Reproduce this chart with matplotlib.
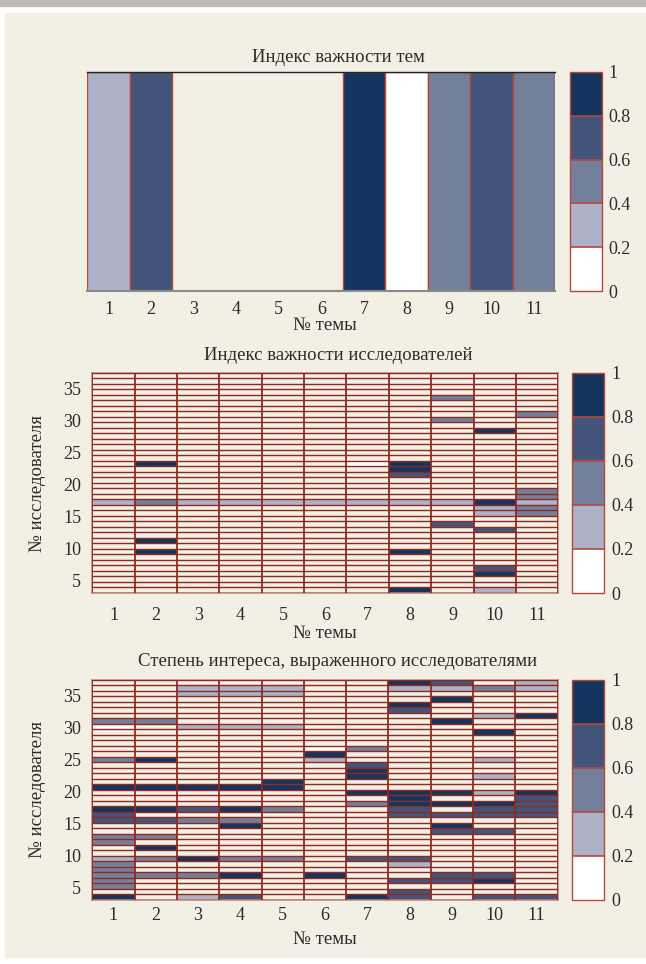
import matplotlib.pyplot as plt
import numpy as np
from matplotlib.colors import ListedColormap, BoundaryNorm
from matplotlib.cm import ScalarMappable
from matplotlib.patches import Rectangle

plt.rcParams['font.family'] = ['Liberation Serif', 'DejaVu Serif']
plt.rcParams['font.size'] = 13
plt.rcParams['text.color'] = '#2b2b2b'
plt.rcParams['xtick.color'] = '#2b2b2b'
plt.rcParams['ytick.color'] = '#2b2b2b'

# темы 1..11
topics = np.arange(1, 12)
# индекс важности тем (nan = нет значения)
topic_importance = [0.3, 0.7, np.nan, np.nan, np.nan, np.nan, 0.9, 0.1, 0.5, 0.7, 0.5]

n_res = 40
y_ticks = [5, 10, 15, 20, 25, 30, 35]

# индекс важности исследователей: тема -> {№ исследователя: значение}
res_importance = {
    1: {17: 0.3},
    2: {24: 0.9, 17: 0.5, 10: 0.9, 8: 0.9},
    3: {17: 0.3},
    4: {17: 0.3},
    5: {17: 0.3},
    6: {17: 0.3},
    7: {24: 0.1, 17: 0.3},
    8: {24: 0.9, 23: 0.9, 22: 0.7, 17: 0.3, 8: 0.9, 1: 0.9},
    9: {36: 0.5, 32: 0.5, 17: 0.3, 13: 0.7},
    10: {30: 0.9, 17: 0.9, 16: 0.3, 15: 0.3, 12: 0.7, 5: 0.7, 4: 0.9, 1: 0.3},
    11: {33: 0.5, 19: 0.5, 18: 0.5, 17: 0.3, 16: 0.5, 15: 0.5},
}

# степень интереса, выраженного исследователями
res_interest = {
    1: {33: 0.5, 32: 0.1, 26: 0.5, 21: 0.9, 17: 0.9, 16: 0.7, 15: 0.7, 12: 0.5,
        11: 0.5, 8: 0.3, 7: 0.5, 6: 0.5, 5: 0.5, 4: 0.5, 3: 0.5, 1: 0.9},
    2: {33: 0.5, 26: 0.9, 21: 0.9, 17: 0.9, 15: 0.7, 12: 0.5, 10: 0.9, 8: 0.5, 5: 0.5},
    3: {39: 0.3, 38: 0.3, 32: 0.3, 21: 0.9, 17: 0.7, 15: 0.5, 8: 0.9, 5: 0.5, 1: 0.3},
    4: {39: 0.3, 38: 0.3, 32: 0.3, 21: 0.9, 17: 0.9, 15: 0.5, 14: 0.9, 8: 0.5,
        5: 0.9, 1: 0.7},
    5: {39: 0.3, 38: 0.3, 32: 0.3, 22: 0.9, 21: 0.9, 17: 0.5, 8: 0.5},
    6: {28: 0.1, 27: 0.9, 26: 0.3, 5: 0.9},
    7: {28: 0.5, 25: 0.7, 24: 0.9, 23: 0.9, 20: 0.9, 18: 0.5, 8: 0.7, 1: 0.9},
    8: {40: 0.9, 39: 0.3, 36: 0.9, 35: 0.7, 20: 0.9, 19: 0.9, 18: 0.9, 17: 0.7,
        16: 0.7, 8: 0.7, 7: 0.3, 4: 0.7, 2: 0.7, 1: 0.7},
    9: {40: 0.7, 39: 0.3, 37: 0.9, 33: 0.9, 20: 0.9, 18: 0.9, 16: 0.7, 14: 0.9,
        13: 0.7, 5: 0.7, 4: 0.7},
    10: {39: 0.5, 34: 0.3, 31: 0.9, 26: 0.3, 23: 0.3, 20: 0.3, 18: 0.9, 17: 0.7,
         16: 0.7, 13: 0.7, 5: 0.7, 4: 0.9, 1: 0.7},
    11: {40: 0.3, 39: 0.3, 34: 0.9, 20: 0.9, 19: 0.7, 18: 0.7, 17: 0.7, 16: 0.7, 1: 0.7},
}

levels = [0, 0.2, 0.4, 0.6, 0.8, 1.0]
level_labels = ['0', '0.2', '0.4', '0.6', '0.8', '1']
colors = ['#ffffff', '#adb2c8', '#747f9c', '#43557a', '#14355e']
cmap = ListedColormap(colors)
norm = BoundaryNorm(levels, cmap.N)

bg = '#f2efe5'
red = '#8e2a22'
edge_red = '#b8473b'


def to_matrix(d):
    m = np.full((n_res, len(topics)), np.nan)
    for topic, cells in d.items():
        for r, v in cells.items():
            m[r - 1, topic - 1] = v
    return m


W, H = 646, 964
fig = plt.figure(figsize=(W / 100, H / 100), dpi=100)
fig.patch.set_facecolor('white')
fig.add_artist(Rectangle((0, 1 - 6 / H), 1, 6 / H, transform=fig.transFigure,
                         color='#bdbbb3', zorder=0))
fig.add_artist(Rectangle((5 / W, 1 - 957 / H), 1, (957 - 13) / H,
                         transform=fig.transFigure, color=bg, zorder=0))


def px_axes(x0, y0, x1, y1):
    return fig.add_axes([x0 / W, 1 - y1 / H, (x1 - x0) / W, (y1 - y0) / H])


def add_cbar(cax):
    cb = fig.colorbar(ScalarMappable(norm=norm, cmap=cmap), cax=cax,
                      drawedges=True, ticks=levels)
    cb.outline.set_edgecolor(edge_red)
    cb.outline.set_linewidth(1.0)
    cb.dividers.set_color(edge_red)
    cb.dividers.set_linewidth(1.2)
    cb.ax.set_yticklabels(level_labels)
    cb.ax.tick_params(length=0, pad=5, labelsize=13)
    return cb


x_edges = np.arange(0.5, len(topics) + 1, 1)

# ---- 1. индекс важности тем ----
ax1 = px_axes(87.4, 71.7, 555.4, 291.3)
ax1.set_facecolor(bg)
for t, v in zip(topics, topic_importance):
    if np.isfinite(v):
        ax1.bar(t, 1, width=1, bottom=0, color=cmap(norm(v)),
                edgecolor=edge_red, linewidth=1.0)
ax1.set_xlim(0.5, 11.5)
ax1.set_ylim(0, 1)
ax1.set_xticks(topics)
ax1.set_yticks([])
ax1.tick_params(length=0, pad=7, labelsize=13)
for s in ['left', 'right']:
    ax1.spines[s].set_visible(False)
ax1.spines['top'].set_color('#222222')
ax1.spines['top'].set_linewidth(1.0)
ax1.spines['bottom'].set_color('#8a8a8a')
ax1.spines['bottom'].set_linewidth(1.5)
add_cbar(px_axes(569.8, 71.7, 601.6, 291.3))

# ---- 2 и 3. матрицы по исследователям ----
y_lo, y_hi = 3.0, 37.45
y_edges = np.linspace(y_lo, y_hi, n_res + 1)


def draw_matrix(ax, m):
    ax.set_facecolor(bg)
    ax.pcolormesh(x_edges, y_edges, np.ma.masked_invalid(m), cmap=cmap, norm=norm)
    ax.hlines(y_edges, 0.5, 11.5, color=red, linewidth=1.0, zorder=3)
    ax.vlines(x_edges, y_lo, y_hi, color=red, linewidth=1.3, zorder=3)
    ax.set_xlim(0.5, 11.5)
    ax.set_ylim(y_lo, y_hi)
    ax.set_xticks(topics)
    ax.set_yticks(y_ticks)
    ax.tick_params(length=0, labelsize=13)
    ax.tick_params(axis='y', pad=8)
    for s in ax.spines.values():
        s.set_color('#c98a80')
        s.set_linewidth(1.2)


ax2 = px_axes(92.3, 372.7, 558.3, 593.0)
draw_matrix(ax2, to_matrix(res_importance))
ax2.tick_params(axis='x', pad=10)
add_cbar(px_axes(572, 372.7, 604, 593.0))

ax3 = px_axes(92.3, 679.7, 557.7, 900.0)
draw_matrix(ax3, to_matrix(res_interest))
ax3.tick_params(axis='x', pad=5)
add_cbar(px_axes(572, 679.7, 604, 900.0))

# подписи
fs = 13.5
fig.text(338 / W, 1 - 57 / H, 'Индекс важности тем', ha='center', va='center', fontsize=fs)
fig.text(338 / W, 1 - 355 / H, 'Индекс важности исследователей', ha='center', va='center', fontsize=fs)
fig.text(338 / W, 1 - 662 / H, 'Степень интереса, выраженного исследователями',
         ha='center', va='center', fontsize=fs)
for yy in [326, 634, 940]:
    fig.text(325 / W, 1 - yy / H, '№ темы', ha='center', va='center', fontsize=fs)
for yy in [484, 790]:
    fig.text(38 / W, 1 - yy / H, '№ исследователя', ha='center', va='center',
             rotation=90, fontsize=fs)

plt.savefig('out.png', dpi=100, facecolor=fig.get_facecolor())
